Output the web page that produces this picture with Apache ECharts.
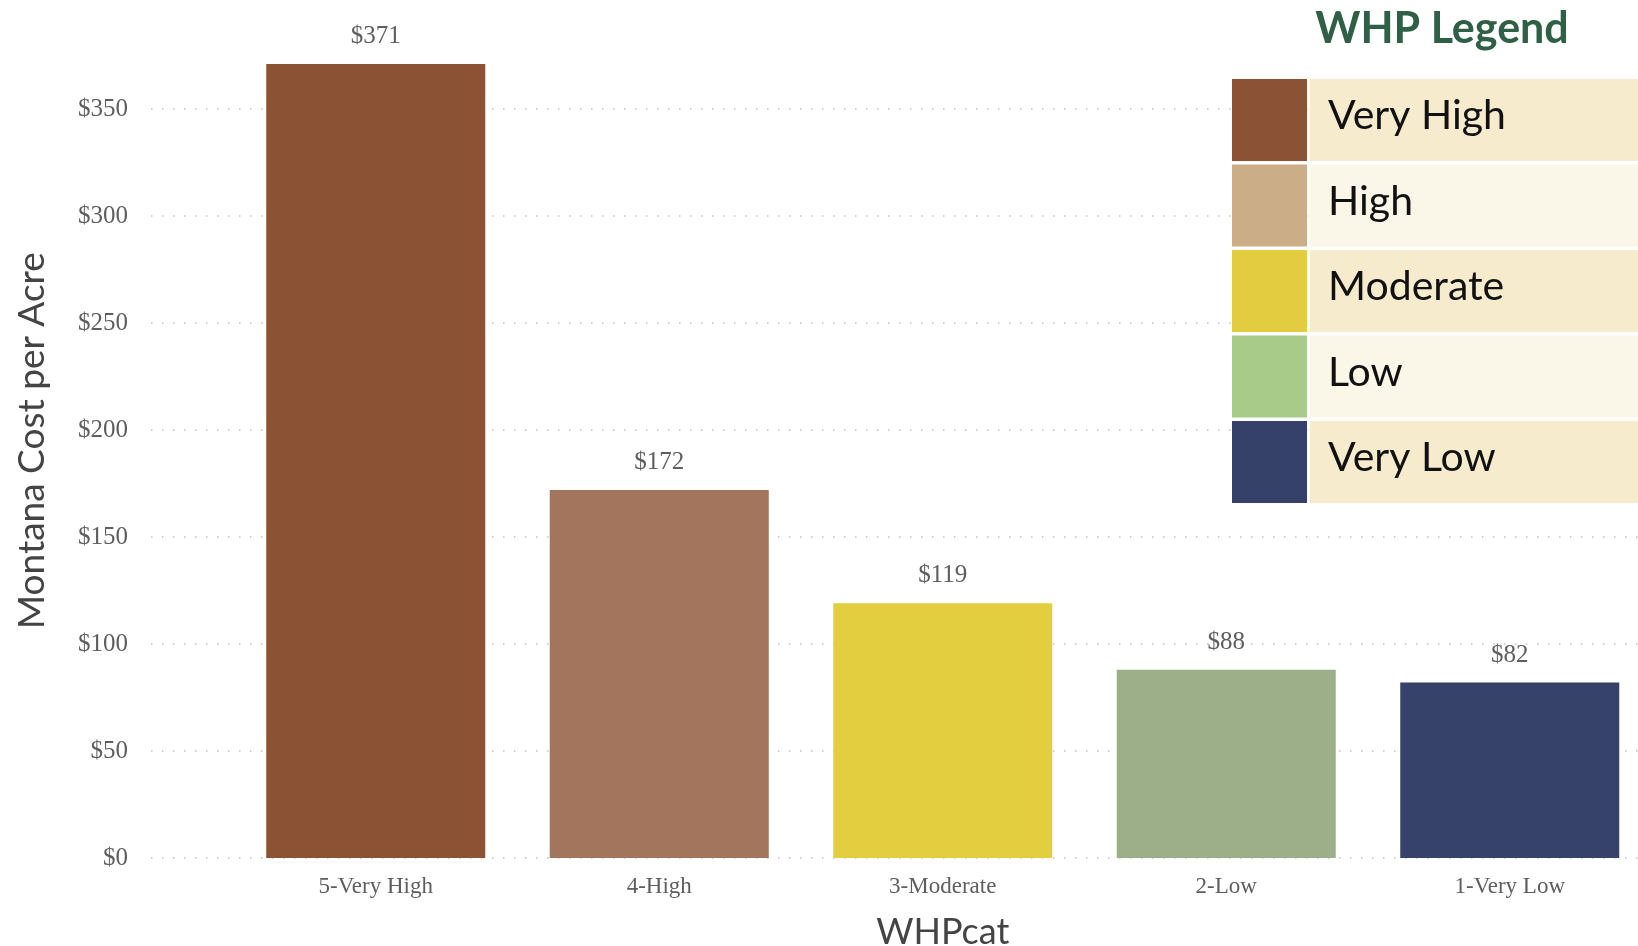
<!DOCTYPE html>
<html>
<head>
<meta charset="utf-8">
<title>WHP cost per acre</title>
<script src="https://cdn.jsdelivr.net/npm/echarts@6/dist/echarts.min.js"></script>
<style>
  html, body { margin: 0; padding: 0; background: #fff; }
  #chart { width: 1638px; height: 946px; }
</style>
</head>
<body>
<div id="chart"></div>
<script>
// data
const categories = ['5-Very High', '4-High', '3-Moderate', '2-Low', '1-Very Low'];
const costs = [371, 172, 119, 88, 82];
const barColors = ['#8B5234', '#A3755D', '#E2CE3F', '#9CAF88', '#36426A'];

const yMin = 0;
const yMax = 390;
const yStep = 50;

const legendTitle = 'WHP Legend';
const legendNames = ['Very High', 'High', 'Moderate', 'Low', 'Very Low'];
const legendColors = ['#8B5235', '#CBAE88', '#E3CC3F', '#A8CB8A', '#36416A'];
const legendRowFills = ['#F6EBCD', '#FAF6E8'];

const serif = "'Liberation Serif', 'Times New Roman', serif";
const sans = "Lato, 'Open Sans', sans-serif";

// legend table drawn as graphic elements (top right)
const buildLegend = () => {
  const items = [];
  const rowTop = 79;
  const rowStep = 85.5;
  const rowH = 82;
  items.push({
    type: 'text',
    x: 1442,
    y: 29,
    z: 100,
    style: {
      text: legendTitle,
      font: 'bold 43px ' + sans,
      fill: '#2F5F46',
      align: 'center',
      verticalAlign: 'middle',
    },
  });
  legendNames.forEach((name, i) => {
    const top = rowTop + i * rowStep;
    items.push({
      type: 'rect',
      z: 100,
      shape: { x: 1232, y: top, width: 75, height: rowH },
      style: { fill: legendColors[i] },
    });
    items.push({
      type: 'rect',
      z: 100,
      shape: { x: 1310, y: top, width: 330, height: rowH },
      style: { fill: legendRowFills[i % 2] },
    });
    items.push({
      type: 'text',
      z: 101,
      x: 1328,
      y: top + rowH / 2 - 4,
      style: {
        text: name,
        font: '41px ' + sans,
        fill: '#111',
        align: 'left',
        verticalAlign: 'middle',
      },
    });
  });
  return items;
};

const chart = echarts.init(document.getElementById('chart'));

const option = {
  backgroundColor: '#fff',
  animation: false,
  grid: [
    // grid 0 only carries the y axis, labels and dotted lines
    { left: 151, right: 0, top: 23.4, bottom: 88, outerBoundsMode: 'none' },
    // grid 1 carries the bars
    { left: 234, width: 1417.5, top: 23.4, bottom: 88, outerBoundsMode: 'none' },
  ],
  xAxis: [
    { gridIndex: 0, type: 'value', min: 0, max: 1, show: false },
    {
      gridIndex: 1,
      type: 'category',
      data: categories,
      axisLine: { show: false },
      axisTick: { show: false },
      axisLabel: {
        margin: 17,
        fontFamily: serif,
        fontSize: 23,
        color: '#5e5e5e',
      },
      name: 'WHPcat',
      nameLocation: 'middle',
      nameGap: 56,
      nameTextStyle: {
        fontFamily: sans,
        fontSize: 36,
        color: '#444',
      },
    },
  ],
  yAxis: [
    {
      gridIndex: 0,
      type: 'value',
      min: yMin,
      max: yMax,
      interval: yStep,
      axisLine: { show: false },
      axisTick: { show: false },
      axisLabel: {
        margin: 23,
        showMaxLabel: false,
        fontFamily: serif,
        fontSize: 25,
        color: '#5e5e5e',
        formatter: (v) => '$' + v,
      },
      splitLine: {
        show: true,
        showMaxLine: false,
        lineStyle: { color: '#c2c2c2', width: 1.5, type: [1.5, 9.5] },
      },
      name: 'Montana Cost per Acre',
      nameLocation: 'middle',
      nameGap: 100,
      nameTextStyle: {
        fontFamily: sans,
        fontSize: 37,
        color: '#444',
      },
    },
    {
      gridIndex: 1,
      type: 'value',
      min: yMin,
      max: yMax,
      interval: yStep,
      show: false,
      splitLine: { show: false },
    },
  ],
  series: [
    {
      type: 'bar',
      xAxisIndex: 1,
      yAxisIndex: 1,
      barWidth: 219,
      data: costs.map((v, i) => ({
        value: v,
        itemStyle: { color: barColors[i] },
      })),
      label: {
        show: true,
        position: 'top',
        distance: 15,
        fontFamily: serif,
        fontSize: 25,
        color: '#5e5e5e',
        formatter: (p) => '$' + p.value,
      },
    },
  ],
  graphic: buildLegend(),
};

chart.setOption(option);
</script>
</body>
</html>
